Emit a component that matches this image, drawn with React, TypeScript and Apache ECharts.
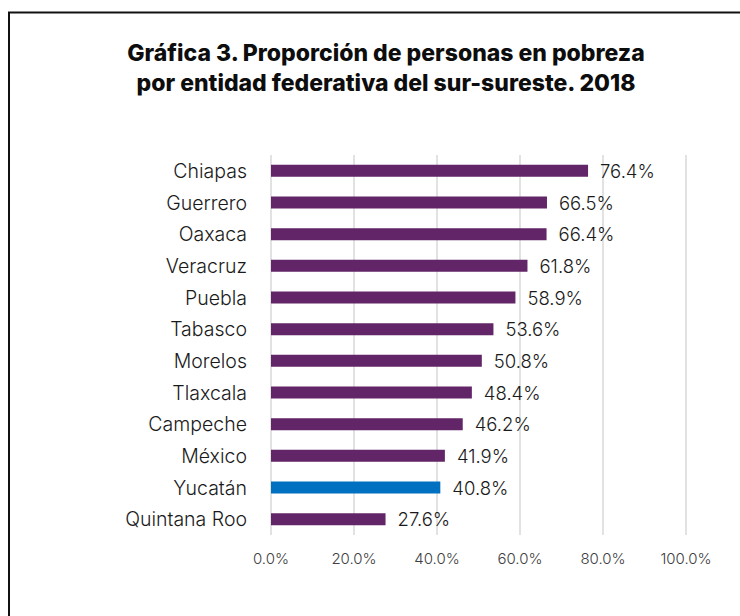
import React, { useEffect, useRef } from "react";
import * as echarts from "echarts";

const categories = ["Chiapas", "Guerrero", "Oaxaca", "Veracruz", "Puebla", "Tabasco", "Morelos", "Tlaxcala", "Campeche", "México", "Yucatán", "Quintana Roo"];
const values = [76.4, 66.5, 66.4, 61.8, 58.9, 53.6, 50.8, 48.4, 46.2, 41.9, 40.8, 27.6];
const highlight = "Yucatán";
const titleLines = ["Gráfica 3. Proporción de personas en pobreza", "por entidad federativa del sur-sureste. 2018"];

export default function App() {
  const ref = useRef<HTMLDivElement>(null);
  useEffect(() => {
    if (!ref.current) return;
    const chart = echarts.init(ref.current, undefined, { renderer: "svg" });
    const cats = [...categories].reverse();
    const vals = [...values].reverse();
    chart.setOption({
      animation: false,
      backgroundColor: "#ffffff",
      textStyle: { fontFamily: "Inter" },
      title: {
        text: titleLines.join("\n"),
        left: 381,
        textAlign: "center",
        top: 33,
        textStyle: { fontFamily: "Inter", fontWeight: 800, fontSize: 23, lineHeight: 30, color: "#0d0d0d" },
      },
      graphic: [
        { type: "line", shape: { x1: 8, y1: 12.5, x2: 740, y2: 12.5 }, style: { stroke: "#111", lineWidth: 2 } },
        { type: "line", shape: { x1: 9, y1: 12, x2: 9, y2: 616 }, style: { stroke: "#111", lineWidth: 2 } },
      ],
      grid: { left: 271, right: 54, top: 155, bottom: 81, containLabel: false },
      xAxis: {
        type: "value",
        min: 0,
        max: 100,
        interval: 20,
        axisLine: { show: false },
        axisTick: { show: false },
        splitLine: { show: true, lineStyle: { color: "#d9d9d9", width: 1.5 } },
        axisLabel: {
          formatter: (v: number) => v.toFixed(1) + "%",
          fontSize: 15,
          fontWeight: 300,
          color: "#404040",
          margin: 16,
          fontFamily: "Inter",
        },
      },
      yAxis: {
        type: "category",
        data: cats,
        axisLine: { show: false },
        axisTick: { show: false },
        axisLabel: { fontSize: 19.5, fontWeight: 300, color: "#1a1a1a", margin: 24, fontFamily: "Inter" },
      },
      series: [
        {
          type: "bar",
          data: vals.map((v, i) => ({
            value: v,
            itemStyle: { color: cats[i] === highlight ? "#0070C0" : "#622567" },
          })),
          barWidth: 12,
          label: {
            show: true,
            position: "right",
            distance: 12,
            formatter: (p: any) => p.value.toFixed(1) + "%",
            fontSize: 18.5,
            fontWeight: 300,
            color: "#1a1a1a",
            fontFamily: "Inter",
          },
        },
      ],
    });
    return () => chart.dispose();
  }, []);
  return <div ref={ref} style={{ position: "fixed", left: 0, top: 0, width: 740, height: 616 }} />;
}
